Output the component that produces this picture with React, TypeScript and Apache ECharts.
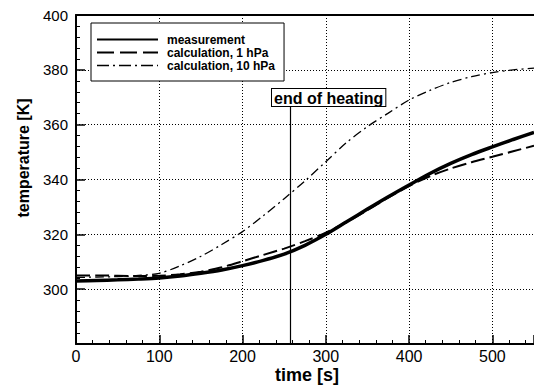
import React, { useEffect, useRef } from "react";
import * as echarts from "echarts";

// time [s]
const TIME = [0, 25, 50, 75, 100, 125, 150, 175, 200, 225, 250, 275, 300, 325, 350, 375, 400, 425, 450, 475, 500, 525, 550];
// temperature [K]
const MEASUREMENT = [303.0, 303.2, 303.4, 303.7, 304.1, 304.8, 305.8, 307.0, 308.6, 310.5, 312.8, 316.0, 320.0, 324.6, 329.2, 333.7, 338.0, 342.2, 345.9, 349.1, 351.9, 354.6, 357.2];
const CALC_1HPA = [305.0, 305.0, 304.9, 304.8, 304.9, 305.4, 306.4, 308.0, 310.2, 312.5, 314.8, 317.5, 320.6, 324.5, 328.8, 333.4, 337.6, 341.2, 344.0, 346.3, 348.3, 350.3, 352.3];
const CALC_10HPA = [304.3, 304.4, 304.6, 305.0, 305.8, 308.5, 312.0, 316.3, 321.0, 326.8, 333.0, 339.5, 346.5, 353.5, 359.3, 364.2, 369.0, 372.5, 375.4, 377.5, 379.0, 380.0, 380.6];

const SERIES_NAMES = ["measurement", "calculation, 1 hPa", "calculation, 10 hPa"];
const END_OF_HEATING_TIME = 257;
const END_OF_HEATING_TOP = 366.5;
const X_MIN = 0, X_MAX = 550, X_INTERVAL = 100;
const Y_MIN = 280, Y_MAX = 400, Y_INTERVAL = 20;

const FONT = '"Liberation Sans", Arial, Helvetica, sans-serif';

export default function App() {
  const ref = useRef<HTMLDivElement>(null);
  useEffect(() => {
    if (!ref.current) return;
    const chart = echarts.init(ref.current, undefined, { renderer: "svg" });
    const toPairs = (vals: number[]) => TIME.map((t, i) => [t, vals[i]]);
    const hiddenSymbol = { opacity: 0, color: "transparent", borderWidth: 0 };
    chart.setOption({
      animation: false,
      backgroundColor: "#fff",
      textStyle: { fontFamily: FONT, color: "#000" },
      grid: { left: 76, right: 0, top: 15, bottom: 41, show: false },
      legend: {
        show: true,
        orient: "vertical",
        left: 91,
        top: 23,
        itemWidth: 61,
        itemHeight: 14,
        itemGap: 0,
        padding: [10, 9, 9, 5],
        backgroundColor: "#fff",
        borderColor: "#000",
        borderWidth: 1,
        selectedMode: false,
        itemStyle: hiddenSymbol,
        textStyle: { fontFamily: FONT, fontWeight: "bold", fontSize: 12, lineHeight: 13, color: "#000", padding: [0, 0, 0, 4] },
        data: [
          { name: SERIES_NAMES[0], itemStyle: hiddenSymbol, lineStyle: { width: 2, type: "solid", color: "#000" } },
          { name: SERIES_NAMES[1], itemStyle: hiddenSymbol, lineStyle: { width: 2, type: [17, 6], color: "#000" } },
          { name: SERIES_NAMES[2], itemStyle: hiddenSymbol, lineStyle: { width: 1.3, type: [12, 4, 2, 4], color: "#000" } },
        ],
      },
      xAxis: [
        {
          type: "value",
          min: X_MIN,
          max: X_MAX,
          interval: X_INTERVAL,
          axisLine: { show: true, onZero: false, lineStyle: { color: "#000", width: 2 } },
          axisTick: { show: true, inside: true, length: 9, lineStyle: { color: "#000", width: 1.5 } },
          minorTick: { show: true, splitNumber: 5, length: 4, lineStyle: { color: "#000", width: 1 } },
          splitLine: { show: true, lineStyle: { color: "#000", width: 1, type: [1, 2] } },
          axisLabel: { fontSize: 16, color: "#000", margin: 4, showMaxLabel: false, fontFamily: FONT },
        },
        {
          type: "value",
          position: "top",
          min: X_MIN,
          max: X_MAX,
          axisLine: { show: true, onZero: false, lineStyle: { color: "#000", width: 2 } },
          axisTick: { show: false },
          axisLabel: { show: false },
          splitLine: { show: false },
        },
      ],
      yAxis: {
        type: "value",
        min: Y_MIN,
        max: Y_MAX,
        interval: Y_INTERVAL,
        axisLine: { show: true, onZero: false, lineStyle: { color: "#000", width: 2 } },
        axisTick: { show: true, inside: true, length: 9, lineStyle: { color: "#000", width: 1.5 } },
        minorTick: { show: true, splitNumber: 5, length: 4, lineStyle: { color: "#000", width: 1 } },
        splitLine: { show: true, lineStyle: { color: "#000", width: 1, type: [1, 2] } },
        axisLabel: { fontSize: 15, color: "#000", margin: 8, showMinLabel: false, fontFamily: FONT },
      },
      series: [
        {
          name: SERIES_NAMES[0],
          type: "line",
          data: toPairs(MEASUREMENT),
          smooth: 0.3,
          symbol: "none",
          color: "#000",
          lineStyle: { color: "#000", width: 3.5, type: "solid" },
          z: 5,
          markLine: {
            silent: true,
            symbol: "none",
            label: { show: false },
            lineStyle: { color: "#000", width: 1.2, type: "solid" },
            data: [[{ coord: [END_OF_HEATING_TIME, Y_MIN] }, { coord: [END_OF_HEATING_TIME, END_OF_HEATING_TOP] }]],
          },
        },
        {
          name: SERIES_NAMES[1],
          type: "line",
          data: toPairs(CALC_1HPA),
          smooth: 0.3,
          symbol: "none",
          color: "#000",
          lineStyle: { color: "#000", width: 2, type: [14, 5] },
          z: 4,
        },
        {
          name: SERIES_NAMES[2],
          type: "line",
          data: toPairs(CALC_10HPA),
          smooth: 0.3,
          symbol: "none",
          color: "#000",
          lineStyle: { color: "#000", width: 1.3, type: [9, 4, 2, 4] },
          z: 3,
        },
      ],
      graphic: [
        {
          type: "text",
          left: 271,
          top: 88,
          z: 100,
          style: {
            text: "end of heating",
            font: `bold 16px ${FONT}`,
            fill: "#000",
            backgroundColor: "#fff",
            borderColor: "#000",
            borderWidth: 1,
            padding: [1, 2, 0, 2],
          },
        },
        {
          type: "text",
          x: 23,
          y: 158,
          rotation: Math.PI / 2,
          style: {
            text: "temperature [K]",
            font: `bold 16px ${FONT}`,
            fill: "#000",
            align: "center",
            verticalAlign: "middle",
            textAlign: "center",
            textVerticalAlign: "middle",
          },
        },
        {
          type: "text",
          x: 307,
          y: 375,
          style: {
            text: "time [s]",
            font: `bold 18px ${FONT}`,
            fill: "#000",
            align: "center",
            verticalAlign: "middle",
            textAlign: "center",
            textVerticalAlign: "middle",
          },
        },
      ],
    });
    return () => chart.dispose();
  }, []);
  return <div ref={ref} style={{ position: "fixed", left: 0, top: 0, width: 534, height: 385 }} />;
}
